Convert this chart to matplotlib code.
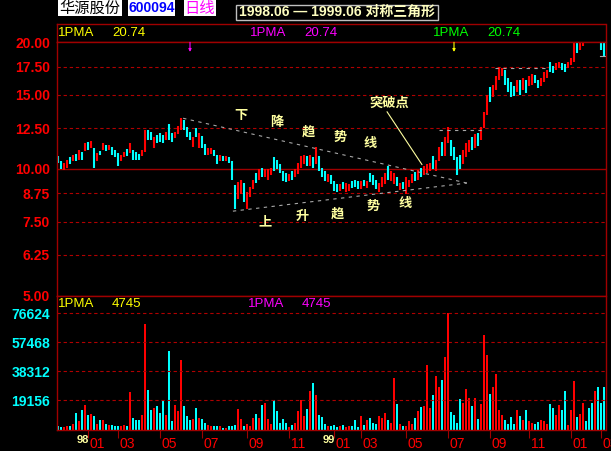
import matplotlib
matplotlib.use("Agg")
import matplotlib.pyplot as plt
from matplotlib.patches import Rectangle
from matplotlib.ticker import NullLocator

W, H = 611, 451

# ---- data: one bar per ~3 trading days, oldest first ----
high = [10.71, 10.42, 10.36, 10.53, 10.65, 10.82, 10.88, 11.12, 11.00, 11.54,
        11.60, 11.66, 11.24, 10.94, 11.06, 11.54, 11.42, 11.42, 11.30, 11.12,
        10.94, 10.77, 11.00, 11.18, 11.54, 11.12, 11.00, 10.88, 11.12, 12.40,
        12.38, 12.25, 11.92, 12.05, 12.18, 12.05, 12.25, 12.80, 12.18, 12.25,
        12.66, 13.22, 13.08, 12.60, 12.25, 11.92, 12.53, 12.18, 11.99, 11.48,
        11.24, 11.24, 11.12, 10.82, 10.77, 10.71, 10.71, 10.65, 10.42, 9.16,
        9.31, 9.42, 9.26, 8.82, 9.06, 9.42, 9.76, 9.98, 10.08, 9.98,
        9.98, 10.08, 10.65, 10.53, 10.25, 9.87, 9.76, 9.71, 9.87, 9.98,
        10.36, 10.71, 10.82, 10.71, 10.82, 10.65, 11.30, 10.71, 10.08, 9.87,
        9.71, 9.66, 9.36, 9.21, 9.21, 9.31, 9.26, 9.21, 9.36, 9.42,
        9.36, 9.36, 9.42, 9.36, 9.76, 9.66, 9.42, 9.26, 9.56, 9.76,
        10.14, 9.87, 9.76, 9.56, 9.26, 9.31, 9.56, 9.42, 9.71, 9.82,
        9.93, 10.08, 10.19, 10.25, 10.36, 10.71, 10.53, 11.30, 11.60, 11.92,
        12.60, 11.73, 11.30, 10.65, 10.82, 11.12, 11.54, 11.73, 11.92, 12.12,
        12.18, 12.60, 13.67, 14.99, 15.67, 15.84, 16.64, 17.47, 17.38, 17.19,
        16.45, 16.10, 15.75, 16.27, 16.27, 16.45, 16.27, 16.64, 16.82, 16.73,
        16.27, 16.45, 17.01, 17.19, 17.95, 17.56, 17.85, 17.95, 17.85, 17.75,
        17.95, 18.35, 20.10, 20.30, 19.92, 20.15, 20.40, 20.50, 20.40, 20.50,
        20.40, 20.60, 20.74]
low = [10.36, 9.98, 9.93, 10.08, 10.25, 10.42, 10.47, 10.53, 10.53, 11.06,
       11.12, 11.24, 10.08, 10.42, 10.77, 11.12, 11.06, 11.12, 10.82, 10.65,
       10.14, 10.42, 10.65, 10.71, 10.94, 10.53, 10.53, 10.53, 10.71, 11.00,
       11.73, 11.73, 11.24, 11.54, 11.60, 11.54, 11.73, 11.73, 11.60, 11.86,
       12.12, 12.38, 12.38, 11.92, 11.73, 11.30, 11.92, 11.24, 11.24, 10.82,
       10.82, 10.88, 10.71, 10.25, 10.42, 10.42, 10.47, 10.36, 9.42, 8.03,
       8.49, 8.73, 8.35, 8.05, 8.58, 8.96, 9.26, 9.42, 9.56, 9.56,
       9.42, 9.66, 9.87, 9.98, 9.76, 9.36, 9.31, 9.36, 9.42, 9.56,
       9.71, 10.08, 10.25, 10.19, 10.14, 10.08, 10.25, 9.87, 9.56, 9.36,
       9.31, 9.21, 8.87, 8.82, 8.87, 8.96, 8.82, 8.87, 9.01, 9.06,
       8.96, 8.96, 9.11, 9.01, 9.31, 9.16, 8.96, 8.82, 9.06, 9.21,
       9.42, 9.36, 9.21, 9.11, 8.91, 8.96, 8.73, 9.06, 9.26, 9.36,
       9.42, 9.56, 9.66, 9.76, 9.87, 9.98, 9.87, 10.42, 10.71, 10.71,
       11.54, 10.71, 10.53, 9.66, 9.98, 10.25, 10.65, 11.00, 11.12, 11.24,
       11.36, 11.73, 12.53, 13.44, 14.43, 14.83, 15.41, 16.27, 16.64, 15.84,
       15.24, 14.83, 14.91, 15.24, 14.99, 15.41, 15.16, 15.75, 15.84, 16.01,
       15.58, 15.75, 16.10, 16.45, 17.01, 16.92, 17.19, 17.38, 17.19, 17.01,
       17.38, 17.66, 17.95, 18.85, 19.17, 19.60, 19.92, 20.03, 19.92, 19.92,
       19.92, 19.17, 18.45]
# r = closed up, c = closed down
updown = ("ccrrcrcrcr" "crcrcrcrcc" "crrcrcccrr" "ccrcccrccr" "rrcccrcrcc"
          "rrccrcrccc" "rrcrrrcrcr" "rrcccccrcr" "rrrcrcrccc" "rcccrcrrcc"
          "crcrcccrrr" "crrcrcrrrc" "rcrrrcrrcr" "rccccrrrcr" "crrrcrrrrc"
          "cccrcrcrrc" "crrrccrrcc" "rrrcrrcccr" "ccc")
volume = [2000, 1500, 1500, 2000, 2400, 3700, 11200, 5300, 13000, 16300,
          9700, 10300, 9000, 3700, 6400, 6400, 3700, 3100, 3100, 2400,
          2400, 2000, 3100, 2000, 24900, 7700, 6400, 6400, 9700, 69800,
          26200, 13000, 14100, 15600, 10800, 19600, 9700, 51500, 5300, 16300,
          11900, 46000, 15600, 8600, 6400, 6800, 13900, 7500, 7000, 4200,
          3100, 2400, 2000, 2400, 2000, 1300, 1300, 2400, 2000, 3100,
          13700, 6800, 2400, 3700, 2400, 7700, 10300, 7500, 16300, 17400,
          6800, 3700, 19600, 12100, 4200, 7000, 4600, 1500, 3100, 4600,
          12300, 19600, 8600, 13700, 25500, 30600, 22900, 9700, 8100, 3700,
          2000, 2400, 3100, 1500, 2400, 3100, 1500, 2000, 2000, 6400,
          1500, 8600, 3100, 6400, 7700, 4200, 3500, 9000, 7500, 10800,
          6400, 4600, 33900, 17000, 3700, 2400, 2000, 5700, 3700, 7900,
          12300, 14800, 15600, 42700, 14100, 22900, 35400, 28000, 32800, 47600,
          76624, 11400, 9700, 4200, 20300, 17400, 26900, 20700, 15200, 20700,
          6800, 17000, 62500, 49300, 23300, 28000, 36800, 13000, 9700, 6400,
          3700, 8100, 3700, 13000, 8600, 6400, 12600, 5900, 4600, 3300,
          5100, 6400, 5900, 3700, 16700, 14100, 9700, 16300, 12600, 25100,
          3100, 13000, 31700, 8100, 10300, 17400, 5900, 14100, 17400, 25100,
          28000, 17400, 28000]

price_levels = [20.00, 17.50, 15.00, 12.50, 10.00, 8.75, 7.50, 6.25, 5.00]
month_pos = [10, 20, 34, 48, 63, 77, 92, 101, 116, 130, 144, 157, 171, 181]
month_labels = ["01", "03", "05", "07", "09", "11",
                "01", "03", "05", "07", "09", "11", "01", "03"]
year_pos = [10, 92]
year_labels = ["98", "99"]
ma_price = "20.74"
ma_volume = "4745"

RED = "#ff0000"
CYAN = "#00ffff"
FRAME = "#a00000"
GRID = "#b00000"
GRAY = "#a8a8a8"
PALE = "#ffffa0"

plt.rcParams["font.family"] = ["Liberation Sans", "Noto Sans CJK SC", "DejaVu Sans"]
fig = plt.figure(figsize=(W / 100, H / 100), dpi=100, facecolor="black")


def fx(x):
    return x / W


def fy(y):
    return 1 - y / H


n = len(high)
xs = list(range(n))
cols = [RED if f == "r" else CYAN for f in updown]
left, right = 57, 605.5
xlim = (-1 / 3, (right - left) / 3 - 1 / 3)

ax0 = fig.add_axes([fx(left), fy(42.3), (right - left) / W, 18.3 / H])
ax = fig.add_axes([fx(left), fy(295.7), (right - left) / W, 253.4 / H])
axv = fig.add_axes([fx(left), fy(429.5), (right - left) / W, 133.8 / H])

for a in (ax0, ax, axv):
    a.set_facecolor("black")
    for s in a.spines.values():
        s.set_color(FRAME)
        s.set_linewidth(1)
    a.set_xlim(*xlim)
ax0.set_xticks([])
ax0.set_yticks([])

# ---- price panel ----
ax.set_yscale("log")
ax.set_ylim(5, 20)
for v in price_levels[1:-1]:
    if v == 10.0:
        ax.axhline(v, color=FRAME, lw=1)
    else:
        ax.axhline(v, color=GRID, lw=0.8, dashes=(3, 2.5))
ax.vlines(xs, low, high, colors=cols, linewidth=1.5)
ax.set_yticks(price_levels)
ax.set_yticklabels([f"{v:.2f}" for v in price_levels])
ax.yaxis.set_minor_locator(NullLocator())
ax.tick_params(axis="y", length=0, pad=5, labelcolor=RED, labelsize=10)
for t in ax.get_yticklabels():
    t.set_fontweight("bold")
ax.set_xticks([])

# triangle trend lines and breakout
ax.plot([41.7, 136.3], [13.2, 9.26], color=GRAY, lw=0.8, dashes=(3, 4))
ax.plot([58.3, 136.3], [7.94, 9.26], color=GRAY, lw=0.8, dashes=(3, 4))
ax.plot([127, 141.7], [12.35, 12.35], color=GRAY, lw=0.8, dashes=(3, 4))
ax.plot([145.7, 163], [17.4, 17.4], color=GRAY, lw=0.8, dashes=(3, 4))
ax.plot([180.7, 182.3], [18.56, 18.56], color=GRAY, lw=0.8)
ax.plot([109.7, 121.3], [13.67, 10.25], color=PALE, lw=0.8)

txt = dict(color=PALE, fontsize=9.5, fontweight="bold", ha="center", va="center")
for ch, xi, p in zip("下降趋势线", [61, 73, 83.3, 94, 104],
                     [13.36, 12.86, 12.24, 11.85, 11.47]):
    ax.text(xi, p, ch, **txt)
for ch, xi, p in zip("上升趋势线", [69, 81.3, 93, 105, 115.7],
                     [7.48, 7.69, 7.82, 8.12, 8.26]):
    ax.text(xi, p, ch, **txt)
ax.text(110.3, 14.27, "突破点", **txt)

for xi, c in [(44, "#ff00ff"), (132, "#ffff00")]:
    ax.annotate("", xy=(xi, 0.962), xycoords=("data", "axes fraction"),
                xytext=(xi, 1.0), textcoords=("data", "axes fraction"),
                arrowprops=dict(arrowstyle="-|>", color=c, lw=0.8,
                                mutation_scale=4, shrinkA=0, shrinkB=0))

# ---- volume panel ----
vmax = max(volume)
vol_levels = [vmax * k / 4 for k in range(1, 5)]
axv.set_ylim(0, vmax * 133.8 / 116.2)
for v in vol_levels:
    axv.axhline(v, color=GRID, lw=0.8, dashes=(3, 2.5))
axv.bar(xs, volume, width=2 / 3, color=cols, linewidth=0)
axv.set_yticks(vol_levels)
axv.set_yticklabels([f"{v:.0f}" for v in vol_levels])
axv.tick_params(axis="y", length=0, pad=5, labelcolor=CYAN, labelsize=10)
for t in axv.get_yticklabels():
    t.set_fontweight("bold")
axv.set_xticks(month_pos)
axv.tick_params(axis="x", direction="out", length=6, width=0.8, color=FRAME,
                labelbottom=False)
for p, lab in zip(month_pos, month_labels):
    axv.annotate(lab, xy=(p, 0), xycoords=("data", "axes fraction"),
                 xytext=(2, -14), textcoords="offset pixels", ha="left",
                 va="center", color=RED, fontsize=10, annotation_clip=False)
for p, lab in zip(year_pos, year_labels):
    axv.annotate(lab, xy=(p, 0), xycoords=("data", "axes fraction"),
                 xytext=(1, -10.5), textcoords="offset pixels", ha="right",
                 va="center", color=PALE, fontsize=8, fontweight="bold",
                 annotation_clip=False)

# ---- MA labels ----
for x0, c in [(58, "#ffff00"), (250, "#ff00ff"), (433, "#00ff00")]:
    fig.text(fx(x0), fy(33), "1PMA", color=c, fontsize=9.5, va="center")
    fig.text(fx(x0 + 54), fy(33), ma_price, color=c, fontsize=9.5, va="center")
for x0, c in [(58, "#ffff00"), (248, "#ff00ff")]:
    fig.text(fx(x0), fy(304), "1PMA", color=c, fontsize=9.5, va="center")
    fig.text(fx(x0 + 54), fy(304), ma_volume, color=c, fontsize=9.5, va="center")

# ---- header ----
for x0, x1 in [(58, 122), (128, 175), (184, 216)]:
    fig.patches.append(Rectangle((fx(x0), fy(16)), (x1 - x0) / W, 16 / H,
                                 transform=fig.transFigure, facecolor="white",
                                 edgecolor="none"))
fig.text(fx(90), fy(8.5), "华源股份", color="black", fontsize=11,
         ha="center", va="center")
fig.text(fx(151.5), fy(8.5), "600094", color="#0000ff", fontsize=10,
         fontweight="bold", ha="center", va="center")
fig.text(fx(200), fy(8.5), "日线", color="#ff00ff", fontsize=11,
         ha="center", va="center")
fig.patches.append(Rectangle((fx(236), fy(19.5)), 202 / W, 15 / H,
                             transform=fig.transFigure, facecolor="none",
                             edgecolor="#c0c0c0", linewidth=1))
fig.text(fx(337), fy(12), "1998.06 — 1999.06 对称三角形", color="#ffffc0",
         fontsize=10, fontweight="bold", ha="center", va="center")

fig.savefig("out.png", dpi=100, facecolor="black")
